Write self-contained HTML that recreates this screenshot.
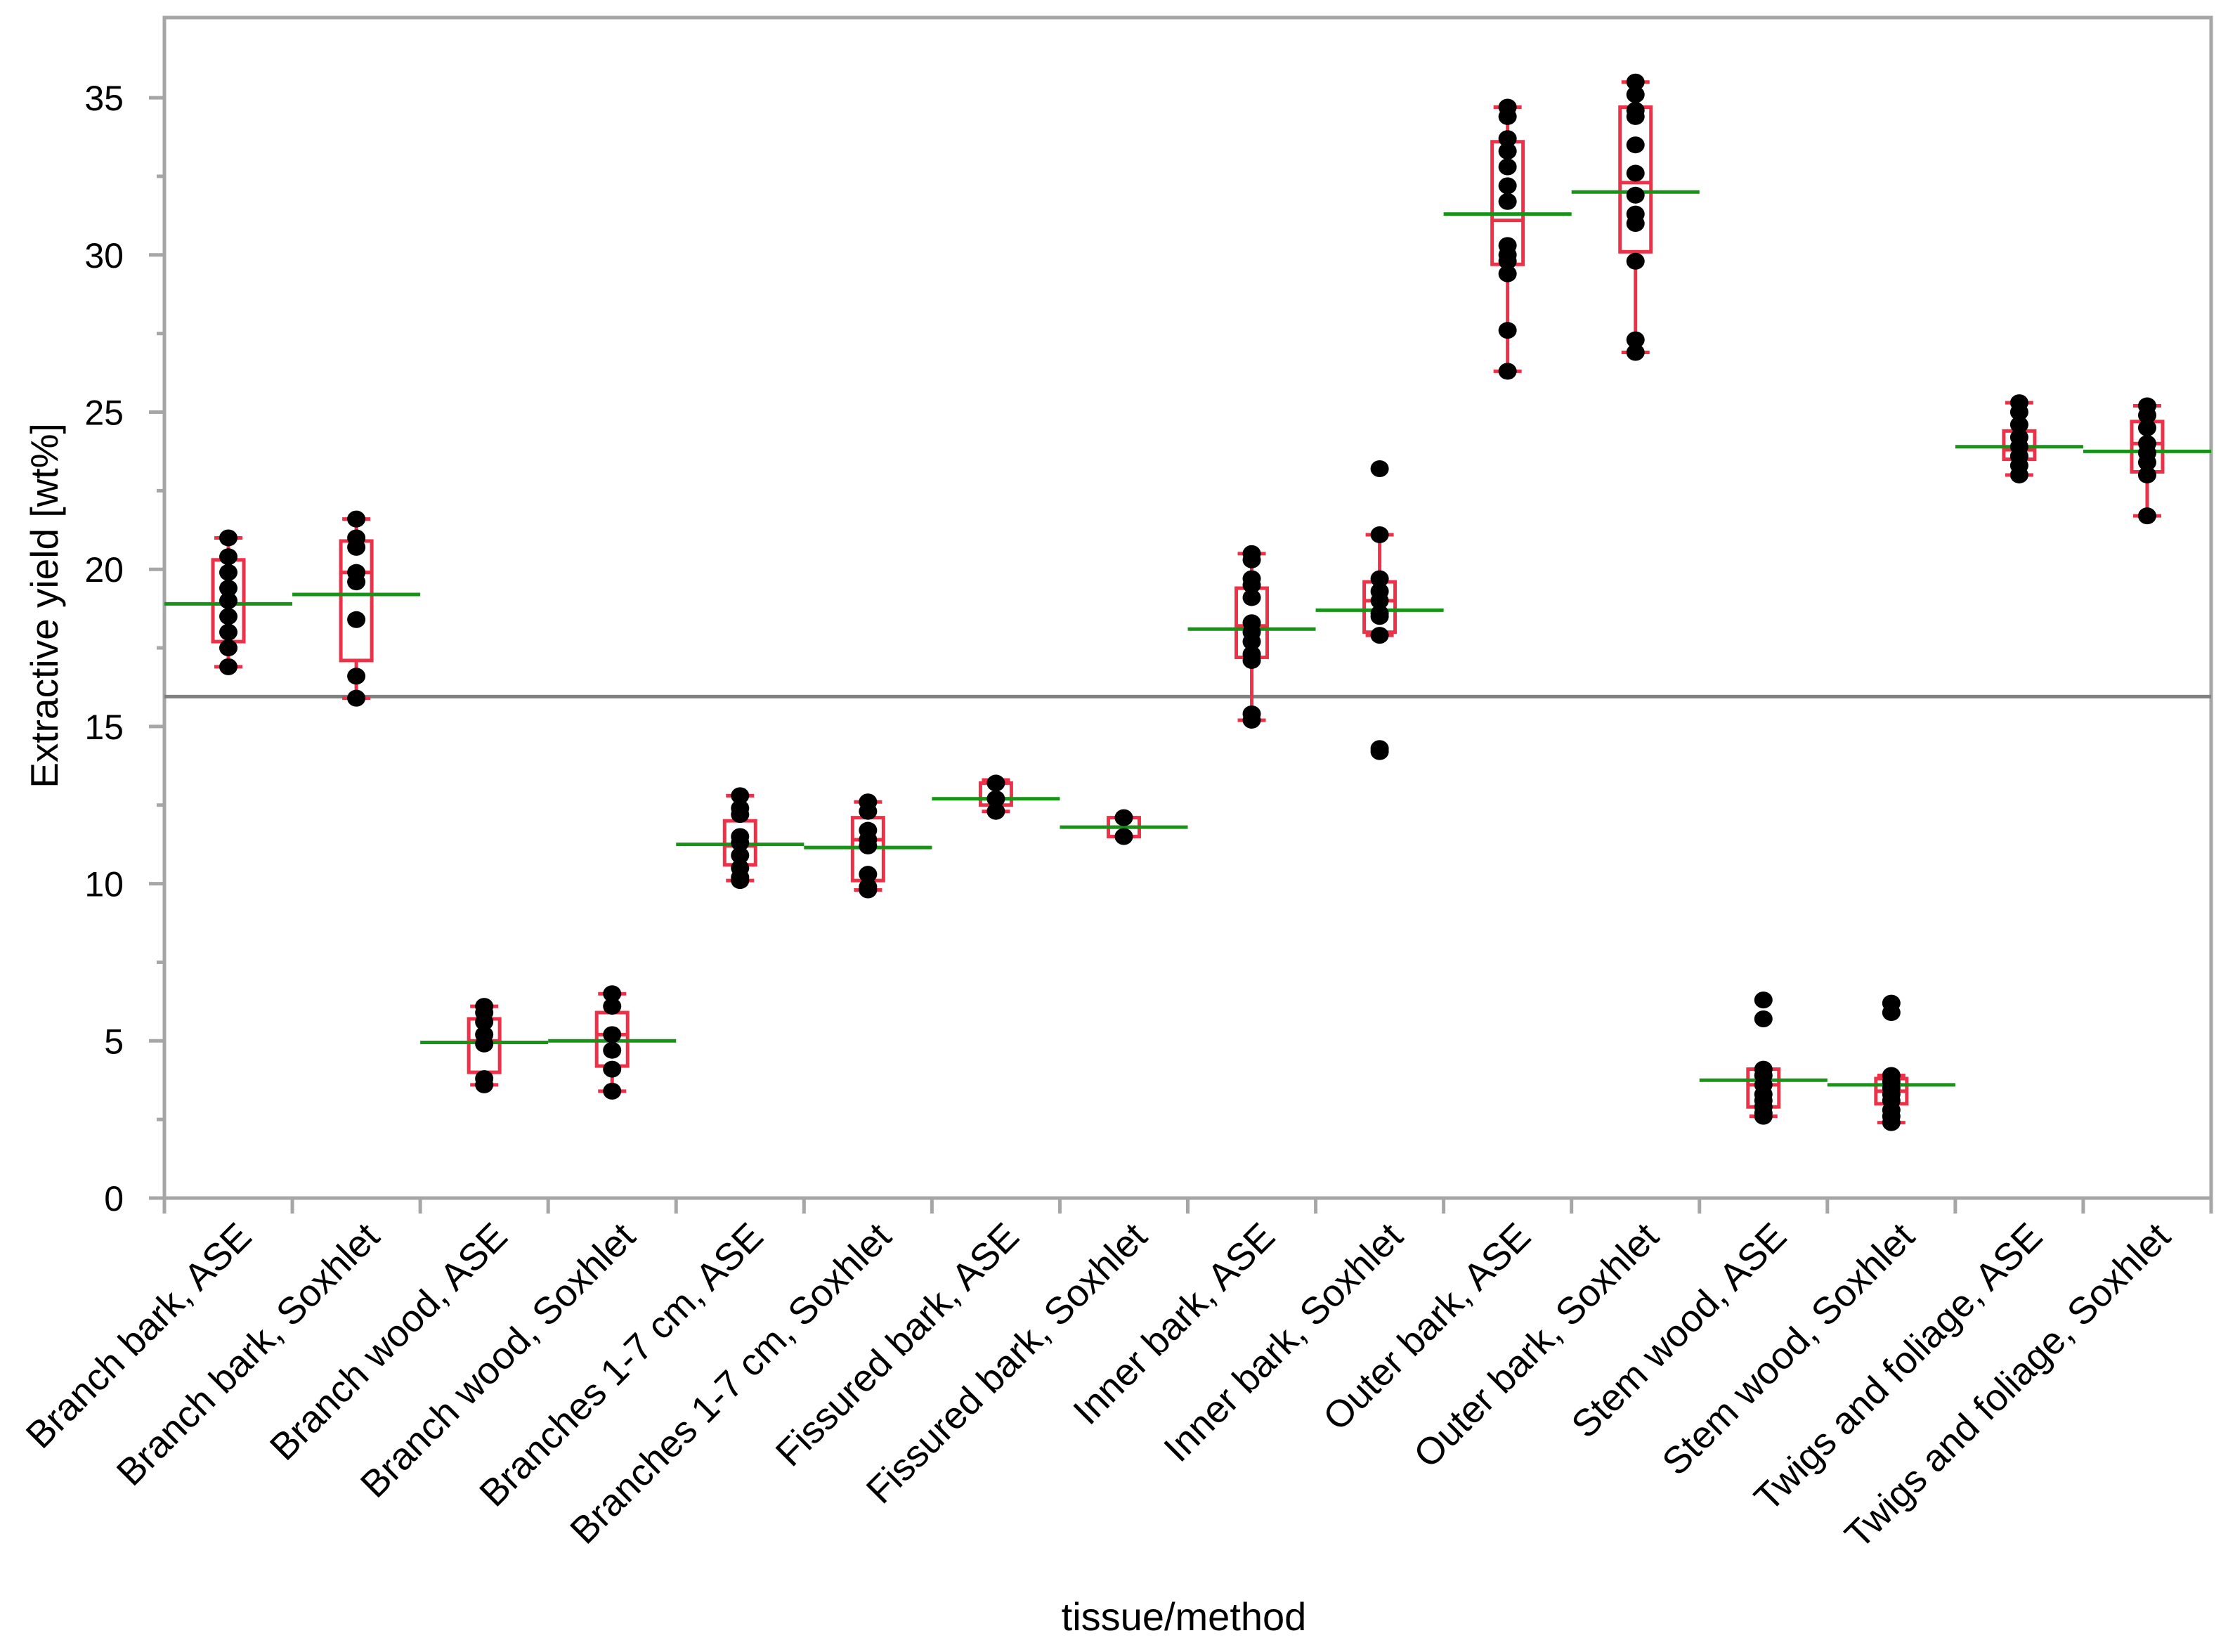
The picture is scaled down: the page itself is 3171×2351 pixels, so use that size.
<!DOCTYPE html>
<html><head><meta charset="utf-8"><style>
html,body{margin:0;padding:0;background:#fff;}
svg{display:block;font-family:"Liberation Sans","DejaVu Sans",sans-serif;}
</style></head><body>
<svg id="chart" width="3171" height="2351" viewBox="0 0 3171 2351" xmlns="http://www.w3.org/2000/svg"></svg>
<script>
const categories = ["Branch bark, ASE","Branch bark, Soxhlet","Branch wood, ASE","Branch wood, Soxhlet","Branches 1-7 cm, ASE","Branches 1-7 cm, Soxhlet","Fissured bark, ASE","Fissured bark, Soxhlet","Inner bark, ASE","Inner bark, Soxhlet","Outer bark, ASE","Outer bark, Soxhlet","Stem wood, ASE","Stem wood, Soxhlet","Twigs and foliage, ASE","Twigs and foliage, Soxhlet"];
const whiskerLow  = [16.9,15.9,3.6,3.4,10.1,9.8,12.3,11.5,15.2,17.9,26.3,26.9,2.6,2.4,23.0,21.7];
const whiskerHigh = [21.0,21.6,6.1,6.5,12.8,12.6,13.3,12.1,20.5,21.1,34.7,35.5,4.1,3.9,25.3,25.2];
const boxLow  = [17.7,17.1,4.0,4.2,10.6,10.1,12.5,11.5,17.2,18.0,29.7,30.1,2.9,3.0,23.5,23.1];
const boxHigh = [20.3,20.9,5.7,5.9,12.0,12.1,13.2,12.1,19.4,19.6,33.6,34.7,4.1,3.8,24.4,24.7];
const medians = [18.9,19.9,5.0,5.2,11.2,11.4,12.7,11.8,18.2,19.0,31.1,32.3,3.6,3.4,23.8,24.0];
const means   = [18.9,19.2,4.95,5.0,11.25,11.15,12.7,11.8,18.1,18.7,31.3,32.0,3.75,3.6,23.9,23.75];
const points = [
 [21.0,20.4,19.9,19.4,19.0,18.5,18.0,17.5,16.9],
 [21.6,21.0,20.7,19.9,19.6,18.4,16.6,15.9],
 [6.1,5.9,5.6,5.2,4.9,3.8,3.6],
 [6.5,6.1,5.2,4.7,4.1,3.4],
 [12.8,12.4,12.2,11.5,11.3,10.9,10.5,10.2,10.1],
 [12.6,12.3,11.7,11.4,11.2,10.3,9.9,9.8],
 [13.2,12.7,12.3],
 [12.1,11.5],
 [20.5,20.3,19.7,19.5,19.1,18.3,18.0,17.7,17.3,17.1,15.4,15.2],
 [23.2,21.1,19.7,19.3,19.0,18.6,18.5,17.9,14.3,14.2],
 [34.7,34.4,33.7,33.3,32.8,32.2,31.7,30.3,30.0,29.8,29.4,27.6,26.3],
 [35.5,35.1,34.6,34.4,33.5,32.6,31.9,31.3,31.0,29.8,27.3,26.9],
 [6.3,5.7,4.1,3.9,3.6,3.3,3.1,2.9,2.7,2.6],
 [6.2,5.9,3.9,3.7,3.5,3.3,3.1,2.8,2.6,2.4],
 [25.3,25.0,24.6,24.2,23.9,23.6,23.3,23.0],
 [25.2,24.9,24.5,24.0,23.7,23.4,23.0,21.7]
];
const yTicks = [0,5,10,15,20,25,30,35];
const yMinor = [2.5,7.5,12.5,17.5,22.5,27.5,32.5];
const refValue = 15.95;

const L=234, R=3147, T=25, B=1705, yMax=37.55;
const NS="http://www.w3.org/2000/svg";
const svg=document.getElementById('chart');
const band=(R-L)/categories.length;
const xC=i=>L+band*(i+0.5);
const y=v=>B-(v/yMax)*(B-T);
function mk(tag,attrs,parent){const e=document.createElementNS(NS,tag);for(const k in attrs)e.setAttribute(k,attrs[k]);(parent||svg).appendChild(e);return e;}
const AX="#a6a6a6";

const frame=mk('rect',{x:L,y:T,width:R-L,height:B-T,fill:'none',stroke:AX,'stroke-width':5});



const yAxis=mk('g',{});


yTicks.forEach(v=>{
  mk('line',{x1:L-22,x2:L,y1:y(v),y2:y(v),stroke:AX,'stroke-width':5},yAxis);
  const t=mk('text',{x:L-58,y:y(v)+18,'text-anchor':'end','font-size':50,fill:'#000'},yAxis);
  t.textContent=v;
  
  
});
yMinor.forEach(v=>mk('line',{x1:L-11,x2:L,y1:y(v),y2:y(v),stroke:AX,'stroke-width':5},yAxis));

const xAxis=mk('g',{});


for(let i=0;i<=categories.length;i++){
  const xx=L+band*i;
  mk('line',{x1:xx,x2:xx,y1:B,y2:B+22,stroke:AX,'stroke-width':5},xAxis);
}
categories.forEach((c,i)=>{
  const ax=xC(i)+36, ay=B+58;
  const t=mk('text',{x:ax,y:ay,'text-anchor':'end','font-size':54,fill:'#000',transform:`rotate(-45 ${ax} ${ay})`},xAxis);
  t.textContent=c;
  
  
});

const ref=mk('line',{x1:L,x2:R,y1:y(refValue),y2:y(refValue),stroke:'#808080','stroke-width':5});



const RED="#ee3048", GREEN="#179417";
categories.forEach((c,i)=>{
  const g=mk('g',{});
  
  
  const cx=xC(i), bw=44, cw=40;
  mk('line',{x1:cx,x2:cx,y1:y(whiskerLow[i]),y2:y(whiskerHigh[i]),stroke:RED,'stroke-width':5},g);
  mk('line',{x1:cx-cw/2,x2:cx+cw/2,y1:y(whiskerLow[i]),y2:y(whiskerLow[i]),stroke:RED,'stroke-width':5},g);
  mk('line',{x1:cx-cw/2,x2:cx+cw/2,y1:y(whiskerHigh[i]),y2:y(whiskerHigh[i]),stroke:RED,'stroke-width':5},g);
  mk('rect',{x:cx-bw/2,y:y(boxHigh[i]),width:bw,height:Math.max(1,y(boxLow[i])-y(boxHigh[i])),fill:'#fff',stroke:RED,'stroke-width':5},g);
  mk('line',{x1:cx-bw/2,x2:cx+bw/2,y1:y(medians[i]),y2:y(medians[i]),stroke:RED,'stroke-width':5},g);
  const m=mk('line',{x1:L+band*i,x2:L+band*(i+1),y1:y(means[i]),y2:y(means[i]),stroke:GREEN,'stroke-width':5});
  
  
  points[i].forEach(v=>{
    const p=mk('ellipse',{cx:cx,cy:y(v),rx:13,ry:12,fill:'#000'});
    
    
  });
});

const yt=mk('text',{x:82,y:862,'text-anchor':'middle','font-size':55,fill:'#000',transform:'rotate(-90 82 862)'});
yt.textContent='Extractive yield [wt%]';


const xt=mk('text',{x:1685,y:2320,'text-anchor':'middle','font-size':56,fill:'#000'});
xt.textContent='tissue/method';


</script>
</body></html>
